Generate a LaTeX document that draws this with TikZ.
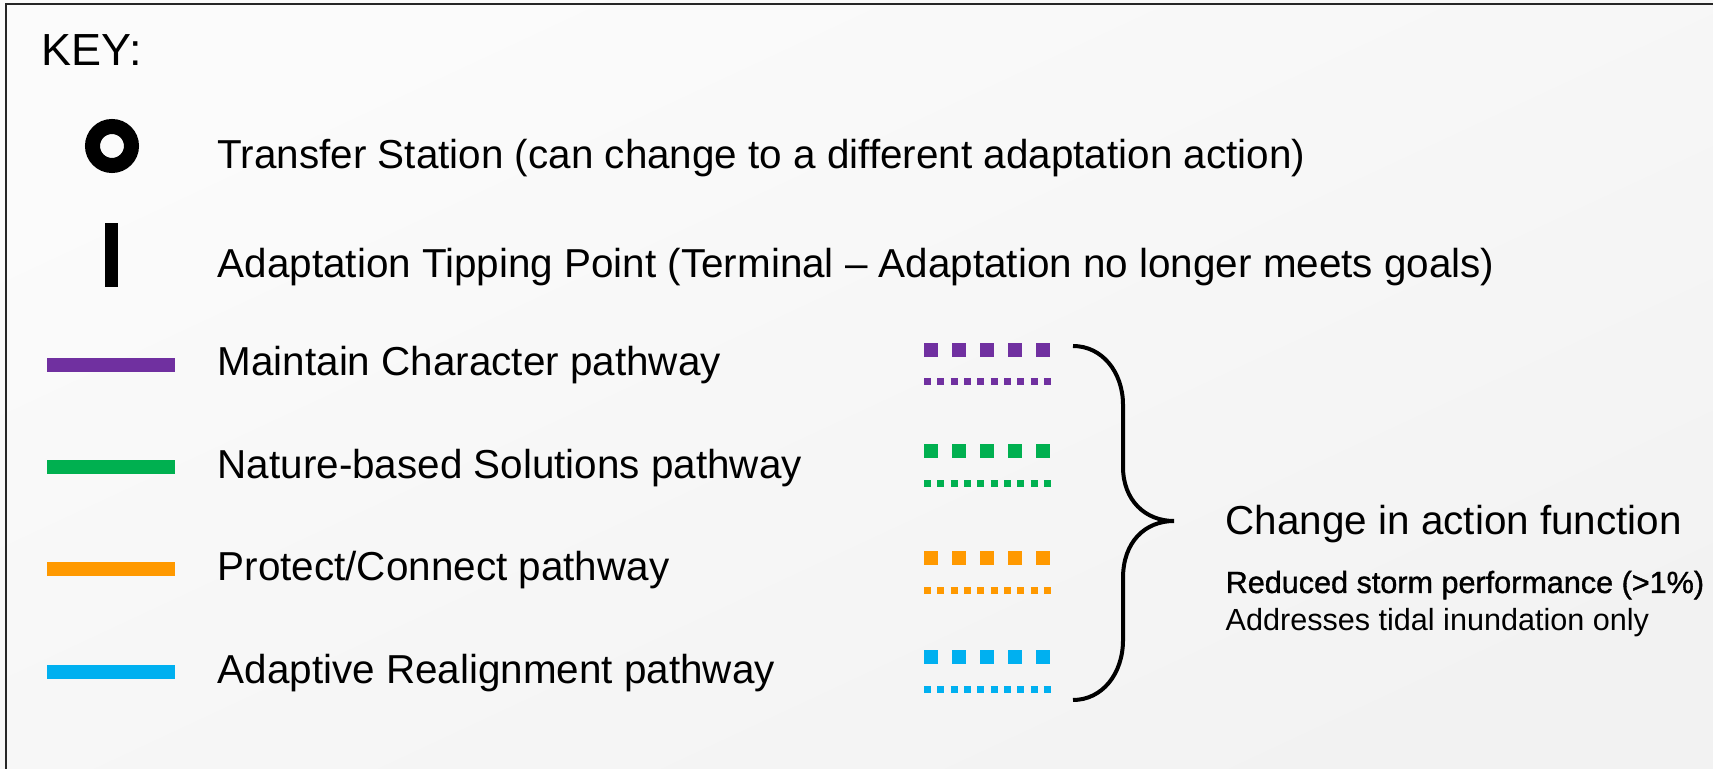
\documentclass[tikz,border=0pt]{standalone}
\usepackage{fontspec}
\setmainfont{Liberation Sans}
\newfontfamily\medfont[FakeBold=1.2]{Liberation Sans}
\usepackage{tikz}

\definecolor{mcpurple}{HTML}{7030A0}
\definecolor{nbsgreen}{HTML}{00B050}
\definecolor{pcorange}{HTML}{FF9900}
\definecolor{arblue}{HTML}{00B0F0}

\begin{document}
\begin{tikzpicture}[
		keytext/.style={anchor=base west, inner sep=0pt, font=\fontsize{11.5pt}{13pt}\selectfont},
		smalltext/.style={anchor=base west, inner sep=0pt, font=\fontsize{8.7pt}{10pt}\selectfont},
		solidpath/.style={line width=0.14cm},
		bigdots/.style={line width=0.14cm, dash pattern=on 0.14cm off 0.14cm},
		smalldots/.style={line width=0.07cm, dash pattern=on 0.07cm off 0.0633cm}]
			% Background and frame
			\useasboundingbox (0, 0) rectangle (17.13, -7.69);
			\shade[top color=white!98.5!black, bottom color=white!95!black, shading angle=25] (0, 0) rectangle (17.13, -7.69);
			\draw[line width=0.02cm, black!85] (0.06, -7.8) -- (0.06, -0.04) -- (17.3, -0.04);
			
			% Title
			\node[keytext, font=\fontsize{12.8pt}{15pt}\selectfont] (key) at (0.41, -0.66) {KEY:};
			
			% Transfer station and tipping point
			\draw[line width=0.15cm] (1.12, -1.46) circle (0.195);
			\fill (1.05, -2.23) rectangle (1.18, -2.87);
			\node[keytext] (transfer) at (2.17, -1.69) {Transfer Station (can change to a different adaptation action)};
			\node[keytext] (tipping) at (2.17, -2.78) {Adaptation Tipping Point (Terminal -- Adaptation no longer meets goals)};
			
			% Pathways
			\draw[solidpath, mcpurple] (0.47, -3.65) -- (1.75, -3.65);
			\draw[solidpath, nbsgreen] (0.47, -4.67) -- (1.75, -4.67);
			\draw[solidpath, pcorange] (0.47, -5.69) -- (1.75, -5.69);
			\draw[solidpath, arblue] (0.47, -6.72) -- (1.75, -6.72);
			\node[keytext] (maintain) at (2.17, -3.76) {Maintain Character pathway};
			\node[keytext] (nature) at (2.17, -4.79) {Nature-based Solutions pathway};
			\node[keytext] (protect) at (2.17, -5.81) {Protect/Connect pathway};
			\node[keytext] (realign) at (2.17, -6.83) {Adaptive Realignment pathway};
			
			% Change in function
			\draw[bigdots, mcpurple] (9.24, -3.50) -- (10.50, -3.50);
			\draw[smalldots, mcpurple] (9.24, -3.82) -- (10.51, -3.82);
			\draw[bigdots, nbsgreen] (9.24, -4.51) -- (10.50, -4.51);
			\draw[smalldots, nbsgreen] (9.24, -4.84) -- (10.51, -4.84);
			\draw[bigdots, pcorange] (9.24, -5.58) -- (10.50, -5.58);
			\draw[smalldots, pcorange] (9.24, -5.91) -- (10.51, -5.91);
			\draw[bigdots, arblue] (9.24, -6.57) -- (10.50, -6.57);
			\draw[smalldots, arblue] (9.24, -6.89) -- (10.51, -6.89);
			
			% Brace
			\draw[line width=0.04cm] (10.73, -3.46) .. controls (11.02, -3.46) and (11.23, -3.72) .. (11.23, -4.05)
				-- (11.23, -4.67) .. controls (11.23, -5.00) and (11.45, -5.21) .. (11.74, -5.21)
				.. controls (11.45, -5.21) and (11.23, -5.42) .. (11.23, -5.78)
				-- (11.23, -6.40) .. controls (11.23, -6.74) and (11.02, -7.00) .. (10.73, -7.00);
			\node[keytext] (change) at (12.25, -5.35) {Change in action function};
			\node[smalltext, font=\fontsize{8.7pt}{10pt}\medfont] (reduced) at (12.25, -5.93) {Reduced storm performance (>1\%)};
			\node[smalltext] (tidal) at (12.25, -6.31) {Addresses tidal inundation only};
		\end{tikzpicture}
\end{document}
